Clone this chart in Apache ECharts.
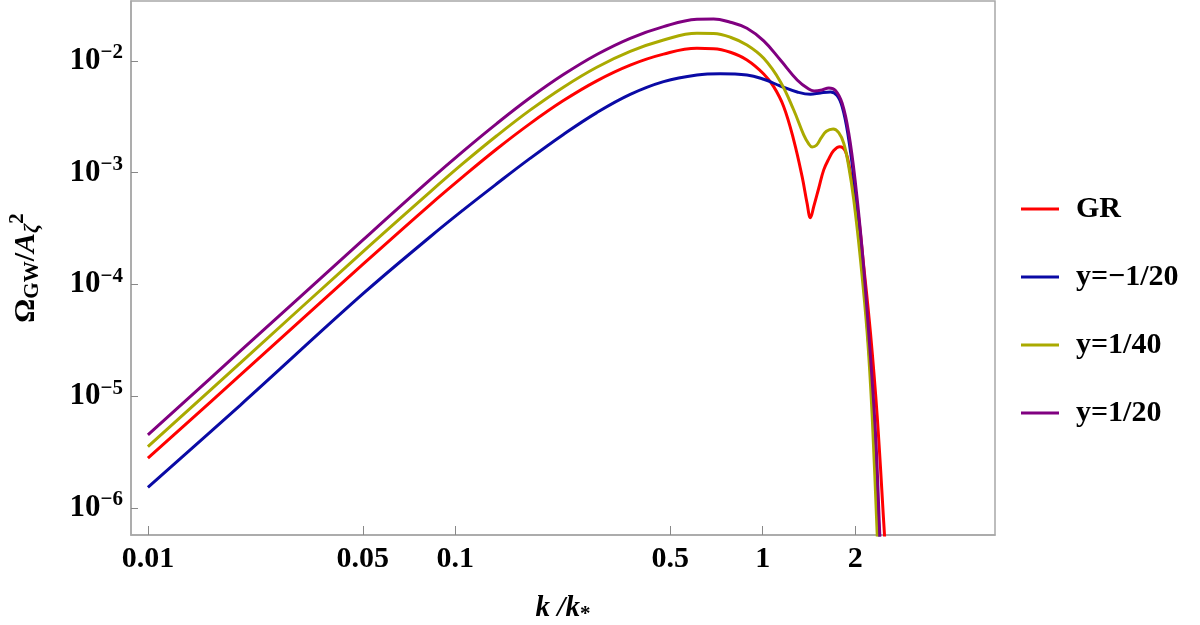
<!DOCTYPE html>
<html>
<head>
<meta charset="utf-8">
<script src="https://cdn.jsdelivr.net/npm/echarts@6/dist/echarts.min.js"></script>
<style>
  html, body { margin: 0; padding: 0; background: #fff; }
  #main { width: 1200px; height: 625px; }
</style>
</head>
<body>
<div id="main"></div>
<script>
// values (k/k*, Omega_GW/A^2)
var xTicks = [0.01, 0.05, 0.1, 0.5, 1, 2];
var xTickLabels = ['0.01', '0.05', '0.1', '0.5', '1', '2'];
var yTicks = [1e-6, 1e-5, 1e-4, 1e-3, 1e-2];

var seriesNames = ['GR', 'y=\u22121/20', 'y=1/40', 'y=1/20'];

var kGR = [0.01, 0.02, 0.05, 0.0827, 0.1062, 0.1364, 0.1751, 0.2248, 0.2887, 0.3708, 0.476, 0.6113, 0.6925, 0.785, 0.889, 1.008, 1.086, 1.171, 1.262, 1.344, 1.395, 1.43, 1.466, 1.522, 1.58, 1.641, 1.703, 1.781, 1.86, 1.931, 2.03, 2.133, 2.243, 2.359, 2.491, 2.52];
var omegaGR = [2.79e-6, 1.55e-5, 1.51e-4, 5.16e-4, 9.27e-4, 1.63e-3, 2.75e-3, 4.42e-3, 6.64e-3, 9.18e-3, 1.151e-2, 1.297e-2, 1.288e-2, 1.196e-2, 1.021e-2, 7.65e-3, 5.89e-3, 3.90e-3, 1.96e-3, 9.22e-4, 5.32e-4, 3.95e-4, 4.97e-4, 7.26e-4, 1.06e-3, 1.33e-3, 1.58e-3, 1.71e-3, 1.55e-3, 9.88e-4, 4.97e-4, 1.44e-4, 3.66e-5, 6.57e-6, 5.73e-7, 3.5e-7];

var kBlue = [0.01, 0.02, 0.05, 0.0827, 0.1062, 0.1364, 0.1751, 0.2248, 0.2887, 0.3708, 0.476, 0.6113, 0.728, 0.889, 1.008, 1.142, 1.295, 1.43, 1.541, 1.662, 1.747, 1.814, 1.892, 1.99, 2.092, 2.198, 2.311, 2.394, 2.42];
var omegaBlue = [1.53e-6, 8.34e-6, 8.22e-5, 2.66e-4, 4.65e-4, 7.96e-4, 1.343e-3, 2.20e-3, 3.45e-3, 5.02e-3, 6.53e-3, 7.50e-3, 7.70e-3, 7.50e-3, 6.86e-3, 5.97e-3, 5.28e-3, 5.03e-3, 5.18e-3, 5.28e-3, 4.90e-3, 3.90e-3, 2.25e-3, 8.04e-4, 2.04e-4, 3.66e-5, 4.66e-6, 5.73e-7, 3.5e-7];

var kYellow = [0.01, 0.02, 0.05, 0.0827, 0.1062, 0.1364, 0.1751, 0.2248, 0.2887, 0.3708, 0.476, 0.6113, 0.6925, 0.785, 0.889, 1.008, 1.142, 1.262, 1.36, 1.412, 1.448, 1.496, 1.55, 1.612, 1.696, 1.768, 1.836, 1.906, 1.979, 2.081, 2.188, 2.272, 2.359, 2.38];
var omegaYellow = [3.54e-6, 1.99e-5, 1.96e-4, 6.71e-4, 1.216e-3, 2.14e-3, 3.63e-3, 5.83e-3, 8.79e-3, 1.219e-2, 1.542e-2, 1.77e-2, 1.76e-2, 1.63e-2, 1.39e-2, 1.056e-2, 6.53e-3, 3.64e-3, 2.18e-3, 1.81e-3, 1.70e-3, 1.76e-3, 2.05e-3, 2.35e-3, 2.46e-3, 2.28e-3, 1.83e-3, 1.13e-3, 5.71e-4, 1.66e-4, 3.66e-5, 6.57e-6, 5.73e-7, 3.5e-7];

var kPurple = [0.01, 0.02, 0.05, 0.0827, 0.1062, 0.1364, 0.1751, 0.2248, 0.2887, 0.3708, 0.476, 0.6113, 0.6925, 0.785, 0.889, 1.008, 1.142, 1.295, 1.412, 1.47, 1.56, 1.641, 1.725, 1.814, 1.906, 2.004, 2.107, 2.214, 2.329, 2.405, 2.43];
var omegaPurple = [4.50e-6, 2.54e-5, 2.49e-4, 8.61e-4, 1.56e-3, 2.75e-3, 4.68e-3, 7.55e-3, 1.143e-2, 1.596e-2, 2.03e-2, 2.36e-2, 2.38e-2, 2.22e-2, 1.96e-2, 1.51e-2, 1.02e-2, 6.76e-3, 5.6e-3, 5.39e-3, 5.5e-3, 5.73e-3, 5.45e-3, 4.18e-3, 2.25e-3, 8.04e-4, 2.04e-4, 3.66e-5, 4.66e-6, 5.73e-7, 3.5e-7];

var colors = ['#ff0000', '#0a0aa5', '#aaaa00', '#800080'];
var font = 'Liberation Serif';

function pairs(ks, vs) {
  return ks.map(function (k, i) { return [k, vs[i]]; });
}

var chartDom = document.getElementById('main');
var myChart = echarts.init(chartDom);

var allK = [kGR, kBlue, kYellow, kPurple];
var allOmega = [omegaGR, omegaBlue, omegaYellow, omegaPurple];

var option = {
  animation: false,
  color: colors,
  grid: {
    left: 131, right: 205, top: 1, bottom: 90,
    show: true, borderColor: '#a8a8a8', borderWidth: 1.5,
    outerBoundsMode: 'none'
  },
  legend: {
    orient: 'vertical',
    left: 1021, top: 194,
    padding: 0,
    icon: 'rect', itemWidth: 38, itemHeight: 3,
    itemGap: 38,
    data: seriesNames,
    textStyle: {
      fontFamily: font, fontWeight: 'bold', fontSize: 30, color: '#000',
      lineHeight: 30, padding: [0, 0, 0, 12]
    }
  },
  xAxis: {
    type: 'log', logBase: 10,
    min: 0.00881, max: 5.70,
    axisLine: { show: true, onZero: false, lineStyle: { color: '#a8a8a8', width: 1.5 } },
    axisTick: { show: true, inside: true, length: 9, lineStyle: { color: '#888' }, customValues: xTicks },
    minorTick: { show: false },
    splitLine: { show: false },
    axisLabel: {
      customValues: xTicks,
      margin: 9,
      fontFamily: font, fontWeight: 'bold', fontSize: 30, color: '#000',
      formatter: function (v) {
        for (var i = 0; i < xTicks.length; i++) {
          if (Math.abs(Math.log10(v) - Math.log10(xTicks[i])) < 1e-6) return xTickLabels[i];
        }
        return '';
      }
    },
    name: '{i|k /k}{s|*}',
    nameLocation: 'middle',
    nameGap: 57,
    nameTextStyle: {
      rich: {
        i: { fontFamily: font, fontWeight: 'bold', fontStyle: 'italic', fontSize: 29, color: '#000' },
        s: { fontFamily: font, fontWeight: 'bold', fontSize: 21, color: '#000', padding: [12, 0, 0, 0] }
      }
    }
  },
  yAxis: {
    type: 'log', logBase: 10,
    min: 5.73e-7, max: 0.0344,
    axisLine: { show: true, onZero: false, lineStyle: { color: '#a8a8a8', width: 1.5 } },
    axisTick: { show: true, inside: true, length: 7, lineStyle: { color: '#888' }, customValues: yTicks },
    minorTick: { show: false },
    splitLine: { show: false },
    axisLabel: {
      customValues: yTicks,
      margin: 8,
      formatter: function (v) {
        var n = Math.round(-Math.log10(v));
        return '{b|10}{s|\u2212' + n + '}';
      },
      rich: {
        b: { fontFamily: font, fontWeight: 'bold', fontSize: 31, color: '#000' },
        s: { fontFamily: font, fontWeight: 'bold', fontSize: 21, color: '#000', padding: [0, 0, 16, 0] }
      }
    },
    name: '{o|\u03A9}{sb|GW}{o|/}{i|A}{isb|\u03B6}{sp|2}',
    nameLocation: 'middle',
    nameRotate: 90,
    nameGap: 86,
    nameTextStyle: {
      rich: {
        o: { fontFamily: font, fontWeight: 'bold', fontSize: 30, color: '#000' },
        i: { fontFamily: font, fontWeight: 'bold', fontStyle: 'italic', fontSize: 30, color: '#000' },
        sb: { fontFamily: font, fontWeight: 'bold', fontSize: 21, color: '#000', padding: [13, 0, 0, 0] },
        isb: { fontFamily: font, fontWeight: 'bold', fontStyle: 'italic', fontSize: 21, color: '#000', padding: [13, 0, 0, 0] },
        sp: { fontFamily: font, fontWeight: 'bold', fontSize: 21, color: '#000', padding: [0, 0, 17, 0] }
      }
    }
  },
  series: seriesNames.map(function (name, i) {
    return {
      name: name,
      type: 'line',
      showSymbol: false,
      symbol: 'none',
      smooth: 0.4,
      clip: true,
      lineStyle: { width: 3, color: colors[i] },
      data: pairs(allK[i], allOmega[i])
    };
  })
};

option && myChart.setOption(option);
</script>
</body>
</html>
